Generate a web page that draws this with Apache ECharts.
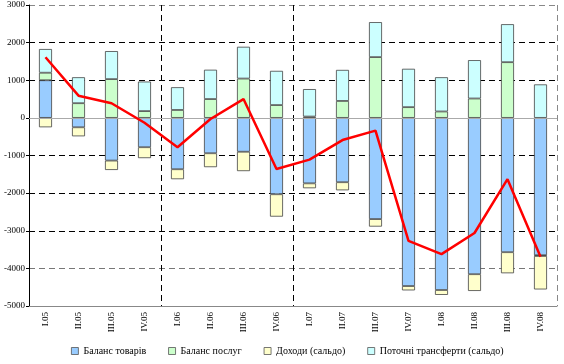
<!DOCTYPE html>
<html><head><meta charset="utf-8">
<script src="https://cdn.jsdelivr.net/npm/echarts@6/dist/echarts.min.js"></script>
<style>html,body{margin:0;padding:0;background:#fff}#c{width:564px;height:364px}</style>
</head><body><div id="c"></div>
<script>
const categories = ['I.05','II.05','III.05','IV.05','I.06','II.06','III.06','IV.06','I.07','II.07','III.07','IV.07','I.08','II.08','III.08','IV.08'];
const goods     = [1000, -250, -1135, -780, -1365, -940, -900, -2030, -1740, -1710, -2690, -4470, -4575, -4155, -3570, -3650];
const services  = [200, 390, 1030, 180, 210, 500, 1045, 340, 35, 450, 1615, 285, 170, 515, 1480, -20];
const income    = [-250, -240, -250, -290, -265, -370, -515, -595, -130, -215, -200, -115, -130, -445, -560, -890];
const transfers = [630, 690, 745, 785, 605, 780, 845, 910, 730, 825, 930, 1020, 910, 1020, 1010, 890];
const balance   = [1610, 590, 390, -130, -780, -30, 500, -1360, -1110, -590, -340, -3270, -3620, -3060, -1630, -3690];
const yTicks = {min: -5000, max: 3000, interval: 1000};
const seriesNames = ['Баланс товарів','Баланс послуг','Доходи (сальдо)','Поточні трансферти (сальдо)'];
const colors = ['#99ccff','#ccffcc','#ffffcc','#ccffff'];

const font = '"Liberation Serif", "Times New Roman", serif';
const chart = echarts.init(document.getElementById('c'), null, {renderer:'canvas'});
const barData = [goods, services, income, transfers];
const bars = barData.map((d,i)=>({
  name: seriesNames[i], type:'bar', stack:'total', data:d, barWidth:13,
  itemStyle:{color:colors[i], borderColor:'#444', borderWidth:0.8},
  emphasis:{disabled:true}
}));
chart.setOption({
  animation:false,
  grid:{left:29, right:7, top:5, bottom:58, containLabel:false},
  legend:{
    data: seriesNames, bottom:3, left:66, itemWidth:7, itemHeight:7, itemGap:22, icon:'rect',
    textStyle:{fontFamily:font, fontSize:10, color:'#000'},
    itemStyle:{borderColor:'#555', borderWidth:0.8}
  },
  xAxis:{
    type:'category', data:categories, boundaryGap:true,
    axisLine:{onZero:false, lineStyle:{color:'#888', width:1}},
    axisTick:{show:false},
    axisLabel:{rotate:90, interval:0, fontFamily:font, fontSize:9, color:'#000', margin:6},
    splitLine:{show:true, interval:(i)=>i===4||i===8||i===16, lineStyle:{color:['#000','#000','#888'], type:[6,4], width:1}}
  },
  yAxis:{
    type:'value', min:yTicks.min, max:yTicks.max, interval:yTicks.interval,
    axisLine:{show:true, lineStyle:{color:'#000', width:1}},
    axisTick:{show:true, length:3, lineStyle:{color:'#000'}},
    axisLabel:{fontFamily:font, fontSize:9, color:'#000', margin:4, formatter:(v)=>String(v)},
    splitLine:{show:true, lineStyle:{color:['#888','#777','#000','#000','#000','#bbb','#000','#000','#888'], type:[6,4], width:1}}
  },
  series: bars.concat([{
    name:'Сальдо', type:'line', data:balance, symbol:'none',
    lineStyle:{color:'#ff0000', width:2.5}, z:5,
    markLine:{silent:true, symbol:'none', label:{show:false},
      lineStyle:{color:'#aaa', type:'solid', width:1},
      data:[{yAxis:0}]}
  }])
});
</script></body></html>
